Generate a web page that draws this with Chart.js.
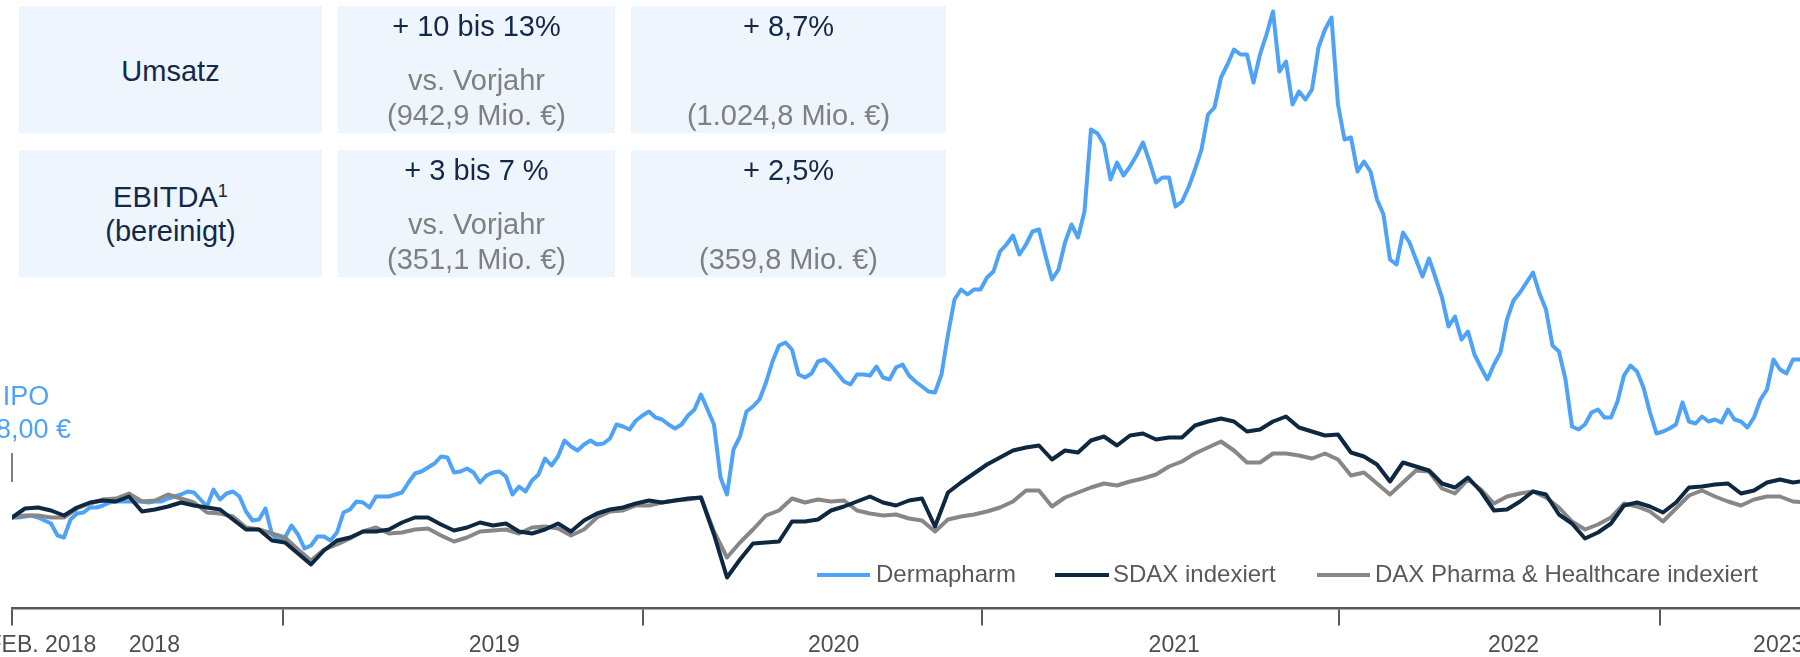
<!DOCTYPE html>
<html lang="de">
<head>
<meta charset="utf-8">
<script src="https://cdn.jsdelivr.net/npm/chart.js@4.4.1/dist/chart.umd.min.js"></script>
<style>
html,body{margin:0;padding:0;width:1800px;height:657px;overflow:hidden;background:#fff;font-family:'Liberation Sans',Arial,sans-serif;}
#wrap{position:relative;width:1800px;height:657px;overflow:hidden;}
#chart{position:absolute;left:-40px;top:0;}
.cell{position:absolute;background:#EEF5FC;}
.t{position:absolute;left:0;right:0;text-align:center;font-size:29px;line-height:35px;white-space:nowrap;}
.n{color:#14294A;}
.g{color:#808080;}
.lg{position:absolute;top:573px;height:4px;}
.lt{position:absolute;top:560.3px;font-size:24px;line-height:28px;color:#595959;white-space:nowrap;}
#ipo{position:absolute;left:-34px;top:380px;width:120px;text-align:center;font-size:27px;line-height:33px;color:#4EA2F8;white-space:nowrap;}
#ipoline{position:absolute;left:11.3px;top:453px;width:2px;height:29px;background:#7f7f7f;}
</style>
</head>
<body>
<div id="wrap">
  <canvas id="chart" width="1880" height="665"></canvas>

  <div class="cell" style="left:19px;top:6px;width:303px;height:127px;">
    <div class="t n" style="top:47.5px;">Umsatz</div>
  </div>
  <div class="cell" style="left:338px;top:6px;width:277px;height:127px;">
    <div class="t n" style="top:2.5px;">+ 10 bis 13%</div>
    <div class="t g" style="top:56.5px;">vs. Vorjahr</div>
    <div class="t g" style="top:91.5px;">(942,9 Mio. €)</div>
  </div>
  <div class="cell" style="left:631px;top:6px;width:315px;height:127px;">
    <div class="t n" style="top:2.5px;">+ 8,7%</div>
    <div class="t g" style="top:91.5px;">(1.024,8 Mio. €)</div>
  </div>

  <div class="cell" style="left:19px;top:150px;width:303px;height:127px;">
    <div class="t n" style="top:29.5px;">EBITDA<span style="font-size:18px;position:relative;top:-10px;">1</span></div>
    <div class="t n" style="top:63.5px;">(bereinigt)</div>
  </div>
  <div class="cell" style="left:338px;top:150px;width:277px;height:127px;">
    <div class="t n" style="top:2.5px;">+ 3 bis 7 %</div>
    <div class="t g" style="top:56.5px;">vs. Vorjahr</div>
    <div class="t g" style="top:91.5px;">(351,1 Mio. €)</div>
  </div>
  <div class="cell" style="left:631px;top:150px;width:315px;height:127px;">
    <div class="t n" style="top:2.5px;">+ 2,5%</div>
    <div class="t g" style="top:91.5px;">(359,8 Mio. €)</div>
  </div>

  <div id="ipo">IPO<br>28,00 €</div>
  <div id="ipoline"></div>

  <div class="lg" style="left:817px;width:53px;background:#4EA2F8;"></div>
  <div class="lt" style="left:876px;">Dermapharm</div>
  <div class="lg" style="left:1055px;width:54px;background:#0E2841;"></div>
  <div class="lt" style="left:1113px;">SDAX indexiert</div>
  <div class="lg" style="left:1317px;width:53px;background:#878787;"></div>
  <div class="lt" style="left:1375px;">DAX Pharma &amp; Healthcare indexiert</div>
</div>

<script>
// Wochen seit dem Börsengang (Feb. 2018): 14-tägig für die Indizes
const wochen = [0,2,4,6,8,10,12,14,16,18,20,22,24,26,28,30,32,34,36,38,
  40,42,44,46,48,50,52,54,56,58,60,62,64,66,68,70,72,74,76,78,
  80,82,84,86,88,90,92,94,96,98,100,102,104,106,108,110,112,114,116,118,
  120,122,124,126,128,130,132,134,136,138,140,142,144,146,148,150,152,154,156,158,
  160,162,164,166,168,170,172,174,176,178,180,182,184,186,188,190,192,194,196,198,
  200,202,204,206,208,210,212,214,216,218,220,222,224,226,228,230,232,234,236,238,
  240,242,244,246,248,250,252,254,256,258,260,262,264,266,268,270,272,274,276];

// wöchentlich für die Dermapharm-Aktie
const wochenDerma = [0,1,2,3,4,5,6,7,8,9,10,11,12,13,14,15,16,17,18,19,
  20,21,22,23,24,25,26,27,28,29,30,31,32,33,34,35,36,37,38,39,
  40,41,42,43,44,45,46,47,48,49,50,51,52,53,54,55,56,57,58,59,
  60,61,62,63,64,65,66,67,68,69,70,71,72,73,74,75,76,77,78,79,
  80,81,82,83,84,85,86,87,88,89,90,91,92,93,94,95,96,97,98,99,
  100,101,102,103,104,105,106,107,108,109,110,111,112,113,114,115,116,117,118,119,
  120,121,122,123,124,125,126,127,128,129,130,131,132,133,134,135,136,137,138,139,
  140,141,142,143,144,145,146,147,148,149,150,151,152,153,154,155,156,157,158,159,
  160,161,162,163,164,165,166,167,168,169,170,171,172,173,174,175,176,177,178,179,
  180,181,182,183,184,185,186,187,188,189,190,191,192,193,194,195,196,197,198,199,
  200,201,202,203,204,205,206,207,208,209,210,211,212,213,214,215,216,217,218,219,
  220,221,222,223,224,225,226,227,228,229,230,231,232,233,234,235,236,237,238,239,
  240,241,242,243,244,245,246,247,248,249,250,251,252,253,254,255,256,257,258,259,
  260,261,262,263,264,265,266,267,268,269,270,271,272,273,274,275,276];

// Kurs in € (Indizes auf IPO-Preis 28,00 € indexiert)
const dermapharm = [28.0,28.0,28.1,28.2,28.0,27.7,27.4,26.2,26.0,27.8,28.4,28.5,29.0,29.0,29.2,29.5,29.6,29.6,29.6,29.6,
  29.6,29.5,29.6,29.6,29.9,30.1,30.3,30.6,30.5,29.8,29.1,30.8,29.8,30.4,30.6,30.1,28.6,27.7,27.8,28.9,
  26.3,25.7,26.0,27.2,26.3,24.9,25.2,26.1,26.1,25.7,26.5,28.5,28.8,29.6,29.5,29.0,30.1,30.1,30.1,30.3,
  30.5,31.5,32.4,32.6,33.0,33.4,34.1,34.0,32.5,32.6,32.9,32.5,31.5,32.2,32.5,32.6,32.1,30.3,31.1,30.6,
  31.7,32.3,33.9,33.2,34.1,35.7,35.1,34.7,35.3,35.7,35.3,35.4,35.9,37.3,37.1,36.8,37.7,38.2,38.6,38.0,
  37.8,37.3,36.9,37.3,38.2,38.8,40.3,38.8,37.3,32.0,30.3,34.8,36.1,38.6,39.1,39.8,41.5,43.6,45.2,45.5,
  44.8,42.3,42.0,42.4,43.6,43.8,43.2,42.4,41.6,41.3,42.3,42.3,42.2,43.1,42.0,41.8,43.0,43.3,42.2,41.6,
  41.1,40.6,40.5,42.3,46.3,49.8,50.8,50.3,50.8,50.8,52.0,52.6,54.6,55.3,56.2,54.3,55.3,56.6,56.8,54.2,
  51.8,52.8,55.5,57.3,56.0,58.6,66.8,66.4,65.3,61.8,63.5,62.2,63.1,64.2,65.5,63.6,61.5,62.0,62.0,59.1,
  59.6,61.0,62.8,64.8,68.3,69.0,72.0,73.3,74.8,74.3,74.3,71.5,74.3,76.3,78.6,72.6,73.6,69.3,70.6,69.8,
  70.8,75.0,76.8,78.0,69.3,65.8,66.0,62.6,63.6,62.6,59.8,58.3,53.8,53.3,56.5,55.5,53.8,52.1,53.9,52.0,
  50.0,47.1,48.1,45.8,46.6,44.3,43.0,41.8,43.3,44.5,47.8,49.7,50.5,51.5,52.5,50.4,48.8,45.2,44.6,41.8,
  37.1,36.8,37.3,38.5,38.8,38.0,38.0,39.6,42.2,43.2,42.6,41.0,38.5,36.4,36.6,36.9,37.3,39.5,37.6,37.4,
  38.1,37.6,37.8,37.5,38.8,37.8,37.6,37.0,38.0,39.8,40.8,43.8,42.8,42.4,43.8,43.8,44.0];

const sdax = [28.0,28.9,29.0,28.7,28.2,29.0,29.5,29.7,29.6,30.1,
  28.6,28.8,29.1,29.5,29.2,29.0,28.8,27.8,26.8,26.8,
  25.7,25.5,24.4,23.3,24.7,25.7,26.0,26.6,26.6,26.8,
  27.5,28.0,28.0,27.3,26.7,27.0,27.5,27.2,27.4,26.6,
  26.4,26.8,27.4,26.6,27.7,28.4,28.8,29.0,29.4,29.7,
  29.5,29.7,29.9,30.0,26.3,22.0,23.8,25.4,25.5,25.6,
  27.6,27.6,27.8,28.7,29.1,29.6,30.1,29.5,29.2,29.7,
  29.9,27.1,30.5,31.5,32.4,33.3,34.0,34.7,35.0,35.2,
  33.8,34.7,34.5,35.7,36.1,35.2,36.2,36.4,35.8,36.0,
  36.0,37.2,37.6,37.9,37.6,36.6,36.8,37.6,38.1,37.0,
  36.6,36.2,36.3,34.5,34.1,33.3,31.6,33.5,33.1,32.7,
  31.4,31.0,32.0,30.6,28.7,28.8,29.6,30.6,30.3,28.3,
  27.4,25.9,26.5,27.4,29.2,29.5,29.1,28.5,29.5,31.0,
  31.1,31.3,31.4,30.4,30.7,31.5,31.8,31.5,31.7];

const daxPharma = [28.0,28.2,28.2,28.0,28.0,28.9,29.4,29.8,29.9,30.4,
  29.6,29.7,30.3,29.9,29.5,28.5,28.4,28.1,27.0,26.8,
  26.4,26.0,24.8,23.7,24.8,25.3,25.9,26.6,27.0,26.4,
  26.5,26.8,26.9,26.2,25.6,26.0,26.6,26.7,26.8,26.4,
  27.0,27.1,26.9,26.2,26.8,28.0,28.6,28.7,29.2,29.2,
  29.5,29.7,29.8,30.0,26.6,24.0,25.5,26.8,28.2,28.7,
  29.9,29.5,29.8,29.6,29.7,28.7,28.4,28.2,28.3,27.9,
  27.7,26.6,27.8,28.1,28.3,28.6,29.0,29.6,30.7,30.7,
  29.1,30.0,30.5,31.0,31.4,31.2,31.6,31.9,32.3,33.1,
  33.6,34.4,35.0,35.6,34.7,33.5,33.5,34.4,34.4,34.2,
  33.9,34.4,33.8,32.2,32.5,31.4,30.3,31.5,32.7,32.6,
  30.9,30.4,31.8,30.8,29.4,30.1,30.4,30.6,30.0,29.0,
  27.6,26.8,27.3,28.0,29.4,29.1,28.6,27.6,28.9,30.2,
  30.7,30.1,29.6,29.2,29.8,30.1,30.1,29.6,29.5];

// Achse: Jahresgrenzen (Striche) und Beschriftungen
const jahresgrenzen = [0, 41.7, 97.1, 149.3, 204.2, 253.5];
const beschriftungPos = [4.6, 21.9, 74.2, 126.4, 178.8, 231.0, 271.8];
const beschriftungen = ['FEB. 2018', '2018', '2019', '2020', '2021', '2022', '2023'];

const achsenTicks = [
  ...jahresgrenzen.map(v => ({value: v, label: '', mark: true})),
  ...beschriftungPos.map((v, i) => ({value: v, label: beschriftungen[i], mark: false}))
].sort((a, b) => a.value - b.value);

const toXY = (xs, arr) => arr.map((v, i) => ({x: xs[i], y: v}));

Chart.defaults.font.family = "'Liberation Sans', Arial, sans-serif";

new Chart(document.getElementById('chart'), {
  type: 'line',
  data: {
    datasets: [
      {label: 'SDAX indexiert', data: toXY(wochen, sdax), borderColor: '#0E2841'},
      {label: 'DAX Pharma & Healthcare indexiert', data: toXY(wochen, daxPharma), borderColor: '#878787'},
      {label: 'Dermapharm', data: toXY(wochenDerma, dermapharm), borderColor: '#4EA2F8'}
    ]
  },
  options: {
    responsive: false,
    devicePixelRatio: 1,
    animation: false,
    layout: {padding: {left: 52, right: 40, top: 0, bottom: 0}},
    elements: {
      line: {borderWidth: 4, tension: 0, borderJoinStyle: 'round', borderCapStyle: 'round'},
      point: {radius: 0, hoverRadius: 0}
    },
    plugins: {legend: {display: false}, tooltip: {enabled: false}},
    events: [],
    scales: {
      x: {
        type: 'linear',
        min: 0,
        max: 275.08,
        afterBuildTicks: scale => { scale.ticks = achsenTicks.map(t => ({value: t.value})); },
        ticks: {
          autoSkip: false,
          maxRotation: 0,
          minRotation: 0,
          padding: 8.25,
          color: '#4d4d4d',
          font: {size: 23, lineHeight: 1},
          callback: (val, idx) => achsenTicks[idx] ? achsenTicks[idx].label : ''
        },
        grid: {
          drawOnChartArea: false,
          drawTicks: true,
          tickLength: 17,
          lineWidth: 2,
          color: ctx => (achsenTicks[ctx.index] && achsenTicks[ctx.index].mark) ? '#595959' : 'rgba(0,0,0,0)'
        },
        border: {display: true, color: '#595959', width: 2.5}
      },
      y: {
        display: false,
        min: 18.9,
        max: 79.75
      }
    }
  }
});
</script>
</body>
</html>
